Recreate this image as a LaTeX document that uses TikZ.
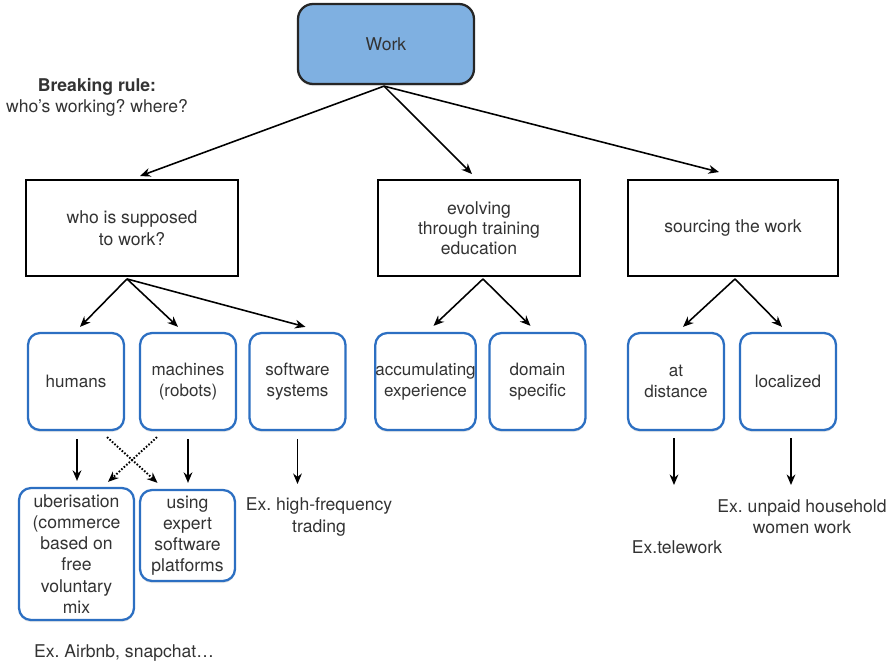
\documentclass[tikz,border=0pt]{standalone}
\usepackage{fontspec}
\setmainfont{TeX Gyre Heros}
\usetikzlibrary{arrows.meta,calc,shadows}
\frenchspacing

\definecolor{workfill}{HTML}{7FB0E1}
\definecolor{leafblue}{HTML}{2C6FC2}
\definecolor{ink}{HTML}{333333}

\begin{document}
\begin{tikzpicture}[x=0.02cm,y=-0.02cm,
  every node/.style={text=ink, align=center, inner sep=0pt},
  txt/.style={font=\fontsize{10}{12}\selectfont},
  softshadow/.style={drop shadow={opacity=0.18, shadow xshift=0pt, shadow yshift=-1.2pt}},
  rootbox/.style={txt, draw=black!85, line width=1.3pt, fill=workfill,
    rounded corners=0.3cm, minimum width=3.52cm, minimum height=1.6cm, softshadow},
  catbox/.style={font=\fontsize{10}{12.5}\selectfont, draw=black, line width=1.1pt,
    fill=white, minimum height=1.92cm},
  leafbox/.style={font=\fontsize{9.7}{11.6}\selectfont, draw=leafblue, line width=1.3pt,
    rounded corners=0.24cm, fill=white, minimum width=1.92cm, minimum height=1.94cm, softshadow},
  link/.style={-{Stealth[length=6pt,width=5pt]}, line width=0.9pt, black},
  dotlink/.style={link, densely dotted, line width=1.1pt},
]
\useasboundingbox (0,0) rectangle (893,666);

% top node and side note
\node[rootbox] (work) at (386,44) {Work};
\node[txt] (rule) at (97,97) {\textbf{Breaking rule:}\\who’s working? where?};

% second level
\node[catbox, minimum width=4.24cm] (who)    at (132,228) {who is supposed\\to work?};
\node[catbox, minimum width=4.04cm, font=\fontsize{10}{11.4}\selectfont]
  (evolve) at (479,228) {evolving\\through training\\education};
\node[catbox, minimum width=4.2cm]  (source) at (733,228) {sourcing the work};

% third level
\node[leafbox, text depth=0pt] (humans) at (76,381.5) {humans};
\node[leafbox] (machines) at (188,381.5)   {machines\\(robots)};
\node[leafbox] (software) at (297.5,381.5) {software\\systems};
\node[leafbox] (accum)    at (425.5,381.5) {accumulating\\experience};
\node[leafbox] (domain)   at (537.5,381.5) {domain\\specific};
\node[leafbox] (dist)     at (676,381.5)   {at\\distance};
\node[leafbox] (local)    at (788,381.5)   {localized};

% fourth level
\node[leafbox, font=\fontsize{10}{12}\selectfont, minimum width=2.3cm, minimum height=2.64cm]
  (uber) at (76.5,554) {uberisation\\(commerce\\based on\\free\\voluntary\\mix};
\node[leafbox, font=\fontsize{10}{12}\selectfont, minimum width=1.9cm, minimum height=1.82cm]
  (using) at (187.5,535.5) {using\\expert\\software\\platforms};

% examples
\node[txt] (hft)      at (319,517) {Ex. high-frequency\\trading};
\node[txt] (unpaid)   at (802,517) {Ex. unpaid household\\women work};
\node[txt] (telework) at (677,547) {Ex.telework};
\node[txt] (airbnb)   at (124,653) {Ex. Airbnb, snapchat…};

\coordinate (hfttip)  at (297.5,484);
\coordinate (disttip) at (674,485);
\coordinate (loctip)  at (791,485);

% work -> categories
\draw[link] ($(work.south)+(-2,1)$) -- ($(who.north)+(8,-3)$);
\draw[link] ($(work.south)+(-2,1)$) -- ($(evolve.north)+(-7,-5)$);
\draw[link] ($(work.south)+(-2,1)$) -- ($(source.north)+(-14,-7)$);

% categories -> leaves
\draw[link] ($(who.south)+(-5,2)$) -- ($(humans.north)+(4,-5)$);
\draw[link] ($(who.south)+(-5,2)$) -- ($(machines.north)+(-10,-5)$);
\draw[link] ($(who.south)+(-5,2)$) -- ($(software.north)+(8,-5)$);
\draw[link] ($(evolve.south)+(4,2)$) -- ($(accum.north)+(8,-6)$);
\draw[link] ($(evolve.south)+(4,2)$) -- ($(domain.north)+(-7,-6)$);
\draw[link] ($(source.south)+(2,2)$) -- ($(dist.north)+(7,-5)$);
\draw[link] ($(source.south)+(2,2)$) -- ($(local.north)+(-6,-5)$);

% leaves -> outcomes
\draw[link] ($(humans.south)+(1,8)$) -- ($(uber.north)+(0.5,-6)$);
\draw[link] ($(machines.south)+(0,8)$) -- ($(using.north)+(0.5,-6)$);
\draw[dotlink] ($(humans.south)+(31,6)$) -- ($(using.north)+(-30,-6)$);
\draw[dotlink] ($(machines.south)+(-31,6)$) -- ($(uber.north)+(31.5,-5)$);
\draw[link] ($(software.south)+(0,8)$) -- (hfttip);
\draw[link] ($(dist.south)+(-2,7)$) -- (disttip);
\draw[link] ($(local.south)+(3,7)$) -- (loctip);
\end{tikzpicture}
\end{document}
